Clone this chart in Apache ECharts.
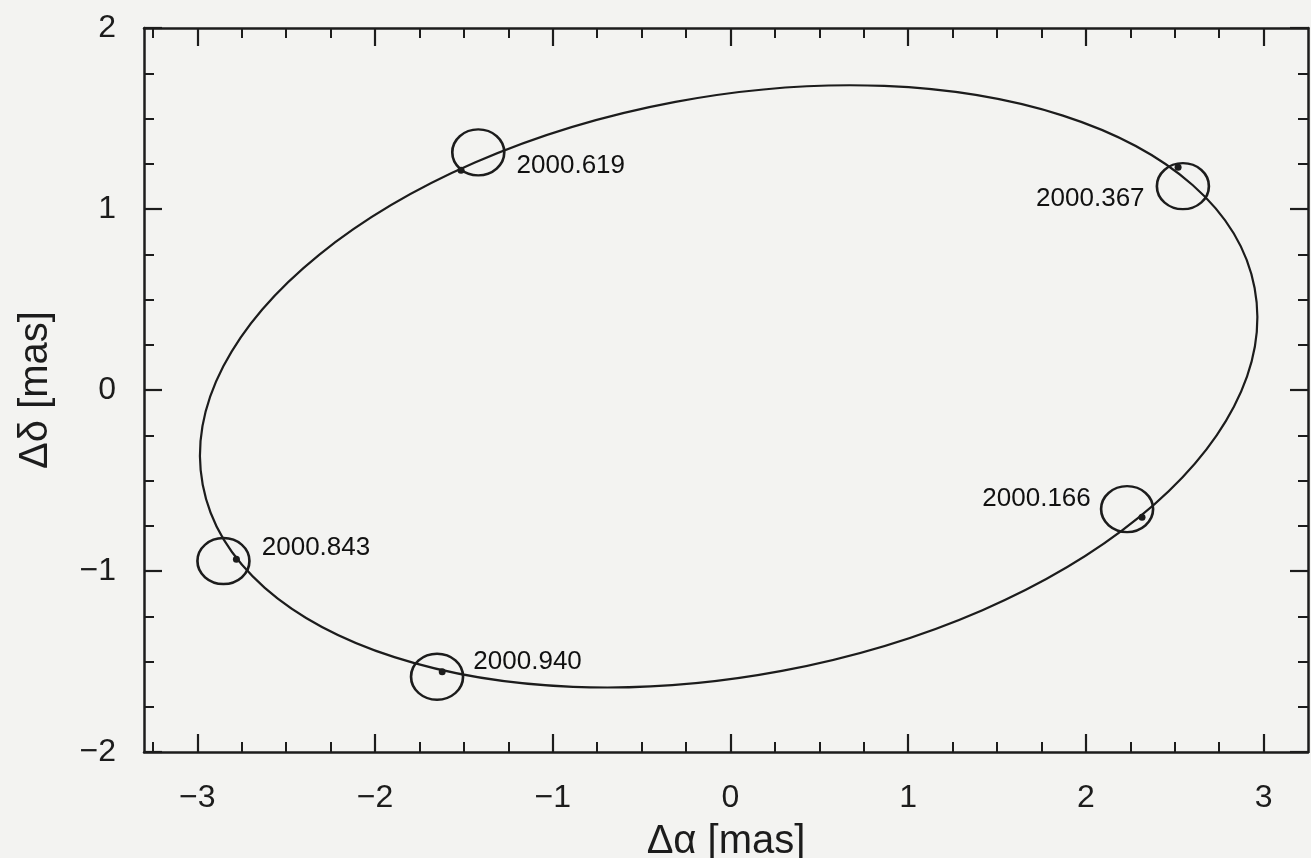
<!DOCTYPE html>
<html>
<head>
<meta charset="utf-8">
<script src="https://cdn.jsdelivr.net/npm/echarts@6/dist/echarts.min.js"></script>
<style>
  html, body { margin: 0; padding: 0; background: #f3f3f1; }
  #chart { width: 1311px; height: 858px; }
</style>
</head>
<body>
<div id="chart"></div>
<script>
// Fitted orbit ellipse: centre, semi-axes [mas], tilt of major axis [deg]
const orbitCenter = [-0.01, 0.02];
const orbitSemiAxes = [3.011, 1.599];
const orbitTilt = [10.6];

// Observations (error circles)
const epochs = ['2000.166', '2000.367', '2000.619', '2000.843', '2000.940'];
const obsX = [2.232, 2.546, -1.419, -2.853, -1.651];
const obsY = [-0.658, 1.126, 1.313, -0.945, -1.584];
// Predicted positions on the orbit (dots)
const predX = [2.316, 2.519, -1.516, -2.780, -1.622];
const predY = [-0.703, 1.231, 1.214, -0.935, -1.556];

// Axes
const xRange = [-3.3, 3.25];
const yRange = [-2, 2];
const xMajorTicks = [-3, -2, -1, 0, 1, 2, 3];
const xMinorTicks = [-3.25, -2.75, -2.5, -2.25, -1.75, -1.5, -1.25, -0.75, -0.5, -0.25,
                     0.25, 0.5, 0.75, 1.25, 1.5, 1.75, 2.25, 2.5, 2.75];
const yMajorTicks = [-2, -1, 0, 1, 2];
const yMinorTicks = [-1.75, -1.5, -1.25, -0.75, -0.5, -0.25, 0.25, 0.5, 0.75, 1.25, 1.5, 1.75];
const xTitle = 'Δα [mas]';
const yTitle = 'Δδ [mas]';

const ink = '#1c1c1c';
const fontFamily = '"Liberation Sans", Arial, sans-serif';
const fmt = v => (v < 0 ? '\u2212' + Math.abs(v) : String(v));

// label placement per observation
const labelPos = [
  { position: 'left', distance: 9, offset: [0, -10] },
  { position: 'left', distance: 11, offset: [0, 13] },
  { position: 'right', distance: 11, offset: [0, 13] },
  { position: 'right', distance: 11, offset: [0, -13] },
  { position: 'right', distance: 9, offset: [0, -15] }
];

function axisBase(range) {
  return {
    type: 'value', min: range[0], max: range[1], gridIndex: 0,
    splitLine: { show: false }
  };
}
function majorAxis(range, pos, ticks, withLabels, margin) {
  return Object.assign(axisBase(range), {
    position: pos,
    axisLine: { show: true, onZero: false, lineStyle: { color: ink, width: 2.5 } },
    axisTick: { show: true, inside: true, length: 18, customValues: ticks, lineStyle: { color: ink, width: 2.2 } },
    axisLabel: withLabels
      ? { show: true, customValues: ticks, formatter: fmt, color: ink, fontSize: 32, fontFamily: fontFamily, margin: margin }
      : { show: false }
  });
}
function minorAxis(range, pos, ticks) {
  return Object.assign(axisBase(range), {
    position: pos,
    axisLine: { show: false, onZero: false },
    axisTick: { show: true, inside: true, length: 10, customValues: ticks, lineStyle: { color: ink, width: 2 } },
    axisLabel: { show: false }
  });
}

const xAxes = [
  Object.assign(majorAxis(xRange, 'bottom', xMajorTicks, true, 30), {
    name: xTitle, nameLocation: 'middle', nameGap: 70,
    nameTextStyle: { color: ink, fontSize: 40, fontFamily: fontFamily }
  }),
  minorAxis(xRange, 'bottom', xMinorTicks),
  majorAxis(xRange, 'top', xMajorTicks, false, 0),
  minorAxis(xRange, 'top', xMinorTicks)
];
const yAxes = [
  Object.assign(majorAxis(yRange, 'left', yMajorTicks, true, 28), {
    name: yTitle, nameLocation: 'middle', nameGap: 88,
    nameTextStyle: { color: ink, fontSize: 40, fontFamily: fontFamily }
  }),
  minorAxis(yRange, 'left', yMinorTicks),
  majorAxis(yRange, 'right', yMajorTicks, false, 0),
  minorAxis(yRange, 'right', yMinorTicks)
];

const chart = echarts.init(document.getElementById('chart'), null, { renderer: 'canvas' });
chart.setOption({
  backgroundColor: '#f3f3f1',
  animation: false,
  grid: { left: 144, width: 1164, top: 28, height: 724, containLabel: false, outerBoundsMode: 'none' },
  xAxis: xAxes,
  yAxis: yAxes,
  series: [
    {
      type: 'custom', coordinateSystem: 'cartesian2d', xAxisIndex: 0, yAxisIndex: 0,
      data: [[orbitCenter[0], orbitCenter[1], orbitSemiAxes[0], orbitSemiAxes[1], orbitTilt[0]]],
      encode: { x: 0, y: 1 },
      silent: true,
      renderItem: function (params, api) {
        const c = api.coord([api.value(0), api.value(1)]);
        const s = api.size([api.value(2), api.value(3)]);
        return {
          type: 'ellipse',
          x: c[0], y: c[1],
          rotation: api.value(4) * Math.PI / 180,
          shape: { cx: 0, cy: 0, rx: s[0], ry: s[1] },
          style: { fill: 'none', stroke: ink, lineWidth: 2.2 }
        };
      }
    },
    {
      type: 'scatter', xAxisIndex: 0, yAxisIndex: 0,
      data: predX.map((x, i) => [x, predY[i]]),
      symbol: 'circle', symbolSize: 7,
      itemStyle: { color: ink, opacity: 1 }
    },
    {
      type: 'scatter', xAxisIndex: 0, yAxisIndex: 0,
      data: obsX.map((x, i) => ({
        value: [x, obsY[i]],
        label: Object.assign({ show: true, formatter: epochs[i] }, labelPos[i])
      })),
      symbol: 'circle', symbolSize: [52, 46],
      itemStyle: { color: 'rgba(0,0,0,0)', borderColor: ink, borderWidth: 2.5, opacity: 1 },
      label: { show: true, color: '#111', fontSize: 26, fontFamily: fontFamily }
    }
  ]
});
</script>
</body>
</html>
